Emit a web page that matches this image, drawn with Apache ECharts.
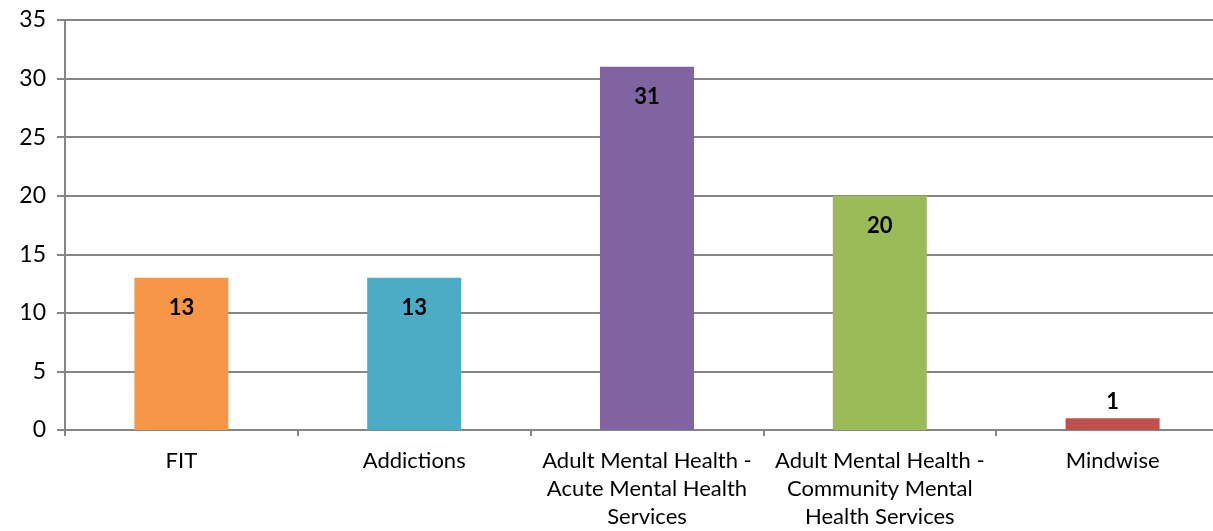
<!DOCTYPE html>
<html>
<head>
<meta charset="utf-8">
<script src="https://cdn.jsdelivr.net/npm/echarts@6/dist/echarts.min.js"></script>
<style>
    html, body { margin: 0; padding: 0; background: #fff; overflow: hidden; }
    /* plot area runs a little past the right edge of the window, as in the original */
    #chart { width: 1229px; height: 531px; }
</style>
</head>
<body>
<div id="chart"></div>
<script>
// data
var categories = [
    'FIT',
    'Addictions',
    'Adult Mental Health -\nAcute Mental Health\nServices',
    'Adult Mental Health -\nCommunity Mental\nHealth Services',
    'Mindwise'
];
var values = [13, 13, 31, 20, 1];
var barColors = ['#F79646', '#4BACC6', '#8064A2', '#9BBB59', '#C0504D'];

var fontFamily = 'Lato, "Open Sans", sans-serif';
var axisGray = '#868686';

var chart = echarts.init(document.getElementById('chart'), null, { renderer: 'canvas' });

var seriesData = [];
for (var i = 0; i < values.length; i++) {
    var item = {
        value: values[i],
        itemStyle: { color: barColors[i] }
    };
    // small bar: label sits above the bar like the original
    if (values[i] < 3) {
        item.label = { position: 'top', distance: 5 };
    }
    seriesData.push(item);
}

chart.setOption({
    animation: false,
    textStyle: { fontFamily: fontFamily },
    grid: {
        left: 65,
        right: 0,
        top: 20,
        bottom: 98,
        containLabel: false
    },
    xAxis: {
        type: 'category',
        data: categories,
        axisLine: { lineStyle: { color: axisGray, width: 2 } },
        axisTick: {
            show: true,
            length: 6,
            lineStyle: { color: axisGray, width: 2 }
        },
        axisLabel: {
            color: '#000',
            fontSize: 22,
            lineHeight: 28,
            margin: 17,
            interval: 0,
            fontFamily: fontFamily
        }
    },
    yAxis: {
        type: 'value',
        min: 0,
        max: 35,
        interval: 5,
        axisLine: { show: true, lineStyle: { color: axisGray, width: 2 } },
        axisTick: {
            show: true,
            length: 8,
            lineStyle: { color: axisGray, width: 2 }
        },
        splitLine: { lineStyle: { color: axisGray, width: 2 } },
        axisLabel: {
            color: '#000',
            fontSize: 23,
            margin: 19,
            fontFamily: fontFamily
        }
    },
    series: [{
        type: 'bar',
        barWidth: 94,
        data: seriesData,
        label: {
            show: true,
            position: 'insideTop',
            distance: 19,
            color: '#000',
            fontWeight: 'bold',
            fontSize: 22,
            fontFamily: fontFamily
        }
    }]
});
</script>
</body>
</html>
